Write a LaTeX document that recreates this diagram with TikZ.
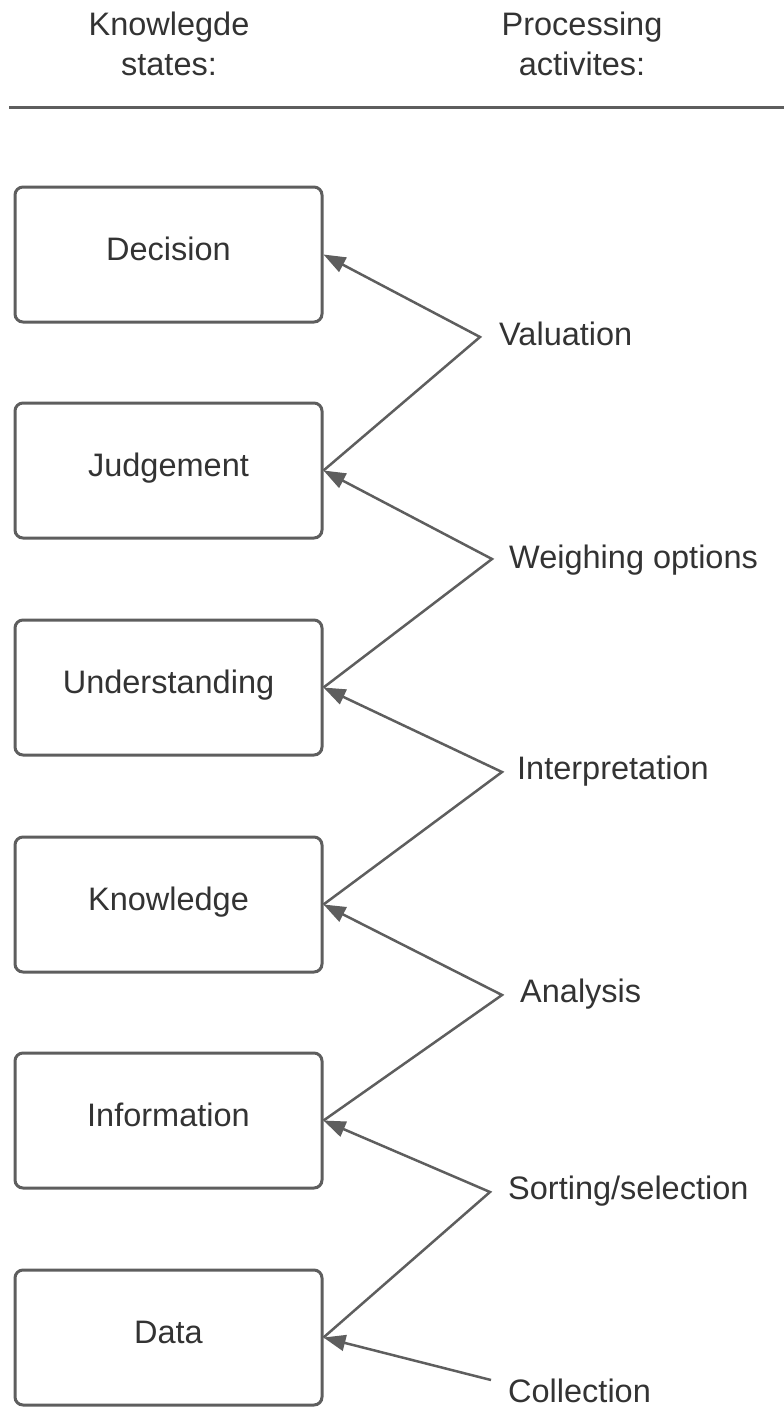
\documentclass[tikz,border=0pt]{standalone}
\usepackage{fontspec}
\setmainfont{Liberation Sans}
\usetikzlibrary{arrows.meta}
\definecolor{linegray}{HTML}{5E5E5E}
\definecolor{textgray}{HTML}{333333}
\begin{document}
\begin{tikzpicture}[x=1pt,y=-1pt,
  every node/.style={text=textgray,font=\fontsize{32.5}{40}\selectfont},
  statebox/.style={draw=linegray,line width=3pt,rounded corners=8pt,
    minimum width=307pt,minimum height=135pt,inner sep=0pt,
    text height=23pt,text depth=12pt},
  activity/.style={anchor=base west,inner sep=0pt},
  heading/.style={anchor=north,align=center,inner sep=0pt},
  link/.style={draw=linegray,line width=2.5pt,line join=miter,
    -{Triangle[length=22pt,width=16pt]}}]
\useasboundingbox (0,0) rectangle (784,1409);

% column headings and rule
\node[heading] (hstates) at (169,11.5) {Knowlegde\\states:};
\node[heading] (hproc) at (582,11.5) {Processing\\activites:};
\coordinate (ruleL) at (9,107);
\coordinate (ruleR) at (784,107);
\draw[linegray,line width=3pt] (ruleL) -- (ruleR);

% knowledge states
\node[statebox] (dec)  at (168.5,254.5)  {Decision};
\node[statebox] (judg) at (168.5,470.5)  {Judgement};
\node[statebox] (und)  at (168.5,687.5)  {Understanding};
\node[statebox] (know) at (168.5,904.5)  {Knowledge};
\node[statebox] (info) at (168.5,1120.5) {Information};
\node[statebox] (data) at (168.5,1337.5) {Data};

% processing activities
\coordinate (pVal)  at (480,337);
\coordinate (pWei)  at (492,559);
\coordinate (pInt)  at (502,772);
\coordinate (pAna)  at (502,995);
\coordinate (pSor)  at (490,1192);
\coordinate (pCol)  at (491,1380);
\node[activity] (lVal) at (499,345)  {Valuation};
\node[activity] (lWei) at (509,568)  {Weighing options};
\node[activity] (lInt) at (517,779)  {Interpretation};
\node[activity] (lAna) at (520,1002) {Analysis};
\node[activity] (lSor) at (508,1199) {Sorting/selection};
\node[activity] (lCol) at (508,1402) {Collection};

% transitions between states
\draw[link] (judg.east) -- (pVal) -- (dec.east);
\draw[link] (und.east)  -- (pWei) -- (judg.east);
\draw[link] (know.east) -- (pInt) -- (und.east);
\draw[link] (info.east) -- (pAna) -- (know.east);
\draw[link] (data.east) -- (pSor) -- (info.east);
\draw[link] (pCol) -- (data.east);
\end{tikzpicture}
\end{document}
